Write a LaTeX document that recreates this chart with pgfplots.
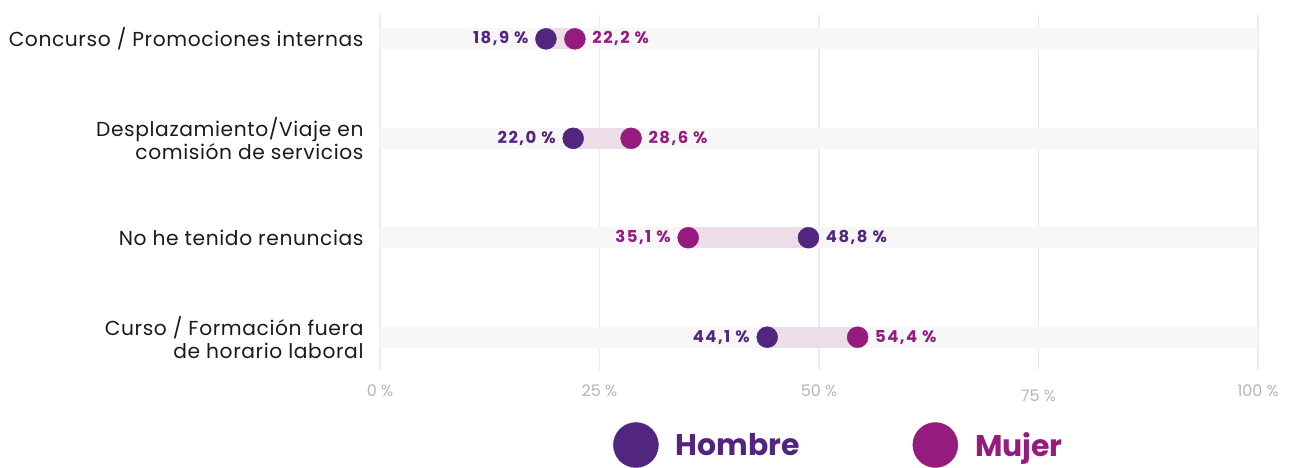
\documentclass[border=0pt]{standalone}
\usepackage{fontspec}
\setmainfont{Poppins}
\newfontfamily\labfont[LetterSpace=3]{Poppins}
\newfontfamily\valfont[LetterSpace=9]{Poppins}
\usepackage{pgfplots}
\pgfplotsset{compat=1.18}
\definecolor{hombre}{HTML}{52267F}
\definecolor{mujer}{HTML}{961B7E}
\definecolor{bandc}{HTML}{F7F7F7}
\definecolor{rangec}{HTML}{EDDDE8}
\definecolor{gridc}{HTML}{EBEBEB}
\definecolor{tickc}{HTML}{B5B5B5}
\definecolor{labc}{HTML}{1A1A1A}
\begin{document}
\begin{tikzpicture}
\path[use as bounding box] (0,0) rectangle (1293bp,468bp);
\begin{axis}[
  at={(380bp,98bp)}, anchor=south west,
  scale only axis, width=878bp, height=355bp,
  xmin=0, xmax=100, ymin=-0.33, ymax=3.24,
  clip=false,
  axis line style={draw=none},
  major tick length=0pt,
  /pgf/number format/assume math mode=true,
  xtick={0,25,50,75,100},
  xticklabels={0 \%, 25 \%, 50 \%, \raisebox{-5bp}[\height][0pt]{75 \%}, 100 \%},
  xmajorgrids, grid style={gridc, line width=1.2bp},
  ytick={0,1,2,3},
  yticklabels={{Curso / Formación fuera\\de horario laboral}, No he tenido renuncias, {Desplazamiento/Viaje en\\comisión de servicios}, Concurso / Promociones internas},
  yticklabel style={align=right, font=\labfont\fontsize{20.3}{23}\selectfont, text=labc, xshift=-13bp},
  xticklabel style={font=\fontsize{16}{18}\selectfont, text=tickc, yshift=-11bp},
  legend style={at={(0.262,-0.2113)}, anchor=west, draw=none, fill=none,
    legend columns=2, font=\fontsize{30}{34}\selectfont\bfseries,
    /tikz/every even column/.append style={column sep=111bp}},
  legend cell align=left,
]
% background bands
\addplot[forget plot, bandc, line width=21bp] coordinates {(0,3) (100,3)};
\addplot[forget plot, bandc, line width=21bp] coordinates {(0,2) (100,2)};
\addplot[forget plot, bandc, line width=21bp] coordinates {(0,1) (100,1)};
\addplot[forget plot, bandc, line width=21bp] coordinates {(0,0) (100,0)};
% ranges
\addplot[forget plot, rangec, line width=21bp] coordinates {(18.9,3) (22.2,3)};
\addplot[forget plot, rangec, line width=21bp] coordinates {(22.0,2) (28.6,2)};
\addplot[forget plot, rangec, line width=21bp] coordinates {(35.1,1) (48.8,1)};
\addplot[forget plot, rangec, line width=21bp] coordinates {(44.1,0) (54.4,0)};
% Hombre, labels left
\addplot[forget plot, only marks, mark=*, mark size=10.5bp, hombre,
  point meta=x,
  nodes near coords={\pgfmathprintnumber[fixed,fixed zerofill,precision=1,use comma]{\pgfplotspointmeta}~\%},
  every node near coord/.append style={anchor=east, xshift=-14bp, text=hombre, font=\valfont\fontsize{16.5}{20}\selectfont\bfseries}]
  coordinates {(18.9,3) (22.0,2) (44.1,0)};
% Hombre, label right
\addplot[forget plot, only marks, mark=*, mark size=10.5bp, hombre,
  point meta=x,
  nodes near coords={\pgfmathprintnumber[fixed,fixed zerofill,precision=1,use comma]{\pgfplotspointmeta}~\%},
  every node near coord/.append style={anchor=west, xshift=14bp, text=hombre, font=\valfont\fontsize{16.5}{20}\selectfont\bfseries}]
  coordinates {(48.8,1)};
% Mujer, labels right
\addplot[forget plot, only marks, mark=*, mark size=10.5bp, mujer,
  point meta=x,
  nodes near coords={\pgfmathprintnumber[fixed,fixed zerofill,precision=1,use comma]{\pgfplotspointmeta}~\%},
  every node near coord/.append style={anchor=west, xshift=14bp, text=mujer, font=\valfont\fontsize{16.5}{20}\selectfont\bfseries}]
  coordinates {(22.2,3) (28.6,2) (54.4,0)};
% Mujer, label left
\addplot[forget plot, only marks, mark=*, mark size=10.5bp, mujer,
  point meta=x,
  nodes near coords={\pgfmathprintnumber[fixed,fixed zerofill,precision=1,use comma]{\pgfplotspointmeta}~\%},
  every node near coord/.append style={anchor=east, xshift=-14bp, text=mujer, font=\valfont\fontsize{16.5}{20}\selectfont\bfseries}]
  coordinates {(35.1,1)};
% legend
\addlegendimage{hombre, legend image code/.code={\fill (0bp,0bp) circle (22.5bp);}}
\addlegendentry{\hspace{15bp}\textcolor{hombre}{Hombre}}
\addlegendimage{mujer, legend image code/.code={\fill (0bp,0bp) circle (22.5bp);}}
\addlegendentry{\hspace{15bp}\textcolor{mujer}{Mujer}}
\end{axis}
\end{tikzpicture}
\end{document}
